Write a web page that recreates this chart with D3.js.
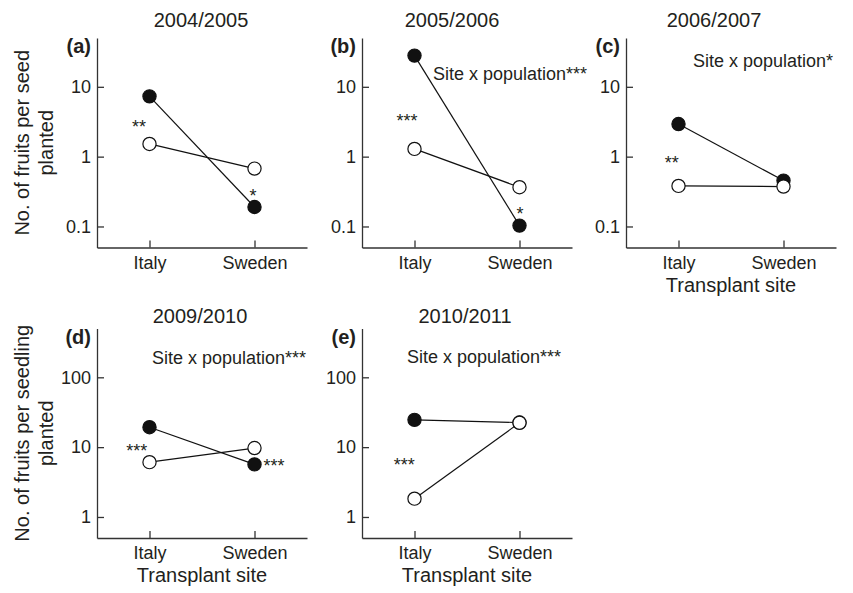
<!DOCTYPE html>
<html>
<head>
<meta charset="utf-8">
<script src="https://cdn.jsdelivr.net/npm/d3@7"></script>
<style>
  html, body { margin: 0; padding: 0; background: #fff; }
  svg { display: block; }
  text { font-family: "Liberation Sans", Arial, Helvetica, sans-serif; fill: #231f20; }
</style>
</head>
<body>
<svg id="chart" width="853" height="593"></svg>
<script>
// ---------------- DATA ----------------
const sites = ["Italy", "Sweden"];
const panelLabels = ["(a)", "(b)", "(c)", "(d)", "(e)"];
const seasons = ["2004/2005", "2005/2006", "2006/2007", "2009/2010", "2010/2011"];
// filled circles (first population) and open circles (second population), per panel [Italy, Sweden]
const filledValues = [
  [7.3, 0.19],
  [28, 0.103],
  [2.93, 0.454],
  [19.3, 5.66],
  [24.6, 22.5]
];
const openValues = [
  [1.52, 0.674],
  [1.29, 0.365],
  [0.381, 0.373],
  [6.1, 9.7],
  [1.83, 22.3]
];
const interactionText = ["", "Site x population***", "Site x population*", "Site x population***", "Site x population***"];
const significanceStars = [
  ["**", "*"],
  ["***", "*"],
  ["**"],
  ["***", "***"],
  ["***"]
];
const yTicksSeed = [0.1, 1, 10];
const yTicksSeedling = [1, 10, 100];
const yDomainSeed = [0.05, 50];
const yDomainSeedling = [0.5, 500];
const yTitleSeed = ["No. of fruits per seed", "planted"];
const yTitleSeedling = ["No. of fruits per seedling", "planted"];
const xTitle = "Transplant site";

// ---------------- LAYOUT ----------------
const rows = [
  { y0: 38, y1: 247.5, titleY: 26.5, ticks: yTicksSeed, domain: yDomainSeed, yTitle: yTitleSeed },
  { y0: 328.5, y1: 538, titleY: 323, ticks: yTicksSeedling, domain: yDomainSeedling, yTitle: yTitleSeedling }
];
const panels = [
  { x0: 97,  row: 0, titleDx: 104, inter: null,      yTitle: true,  xTitle: false, openOnTop: true,
    stars: [{ dx: 42, y: 123 - 38 }, { dx: 156, y: 192 - 38 }] },
  { x0: 362, row: 0, titleDx: 90,  inter: [71, 42],  yTitle: false, xTitle: false, openOnTop: true,
    stars: [{ dx: 45, y: 116.7 - 38 }, { dx: 158, y: 210 - 38 }] },
  { x0: 626, row: 0, titleDx: 88,  inter: [67, 29],  yTitle: false, xTitle: true, openOnTop: true,
    stars: [{ dx: 45.7, y: 159.3 - 38 }] },
  { x0: 97,  row: 1, titleDx: 103, inter: [55, 35.5], yTitle: true, xTitle: true, openOnTop: false,
    stars: [{ dx: 39.7, y: 446.7 - 328.5 }, { dx: 177, y: 461.7 - 328.5 }] },
  { x0: 362, row: 1, titleDx: 103, inter: [45, 34.5], yTitle: false, xTitle: true, openOnTop: true,
    stars: [{ dx: 42.3, y: 461 - 328.5 }] }
];
const panelWidth = 210;
const axisColor = "#333";
const radius = 6.6;

const svg = d3.select("#chart");
svg.append("rect").attr("width", 853).attr("height", 593).attr("fill", "#fff");

panels.forEach((p, i) => {
  const r = rows[p.row];
  const g = svg.append("g");
  const x = d3.scalePoint().domain(sites).range([p.x0, p.x0 + panelWidth]).padding(0.5);
  const y = d3.scaleLog().domain(r.domain).range([r.y1, r.y0]);

  // axes
  const yAxis = d3.axisLeft(y).tickValues(r.ticks).tickFormat(d3.format("~g"))
    .tickSizeInner(-7).tickSizeOuter(0).tickPadding(6);
  const ya = g.append("g").attr("transform", `translate(${p.x0},0)`).call(yAxis);
  const xAxis = d3.axisBottom(x).tickSizeInner(-7).tickSizeOuter(0).tickPadding(8.5);
  const xa = g.append("g").attr("transform", `translate(0,${r.y1})`).call(xAxis);
  [ya, xa].forEach(a => {
    a.select(".domain").attr("stroke", axisColor).attr("stroke-width", 1.3);
    a.selectAll(".tick line").attr("stroke", axisColor).attr("stroke-width", 1.3);
    a.selectAll(".tick text").attr("font-size", 18).attr("fill", "#231f20")
      .attr("font-family", "'Liberation Sans', Arial, sans-serif");
  });

  // title
  g.append("text").attr("x", p.x0 + p.titleDx).attr("y", r.titleY)
    .attr("text-anchor", "middle").attr("font-size", 20).text(seasons[i]);
  // panel label
  g.append("text").attr("x", p.x0 - 6).attr("y", r.y0 + 15)
    .attr("text-anchor", "end").attr("font-size", 20).attr("font-weight", "bold").text(panelLabels[i]);

  // interaction annotation
  if (p.inter && interactionText[i]) {
    g.append("text").attr("x", p.x0 + p.inter[0]).attr("y", r.y0 + p.inter[1])
      .attr("font-size", 18).text(interactionText[i]);
  }

  // lines + circles
  const filled = { vals: filledValues[i], fill: "#111" };
  const open = { vals: openValues[i], fill: "#fff" };
  const series = p.openOnTop ? [filled, open] : [open, filled];
  const line = d3.line().x((d, k) => x(sites[k])).y(d => y(d));
  series.forEach(s => {
    g.append("path").attr("d", line(s.vals)).attr("fill", "none")
      .attr("stroke", "#111").attr("stroke-width", 1.2);
  });
  series.forEach(s => {
    g.selectAll(null).data(s.vals).enter().append("circle")
      .attr("cx", (d, k) => x(sites[k])).attr("cy", d => y(d)).attr("r", radius)
      .attr("fill", s.fill).attr("stroke", "#111").attr("stroke-width", 1.2);
  });

  // significance stars
  significanceStars[i].forEach((t, k) => {
    const pos = p.stars[k];
    g.append("text").attr("x", p.x0 + pos.dx).attr("y", r.y0 + pos.y + 10)
      .attr("text-anchor", "middle").attr("font-size", 18).attr("fill", "#444").text(t);
  });

  // y title
  if (p.yTitle) {
    const cy = (r.y0 + r.y1) / 2;
    [29, 53].forEach((bx, k) => {
      g.append("text").attr("transform", `translate(${bx},${cy}) rotate(-90)`)
        .attr("text-anchor", "middle").attr("font-size", 20).text(r.yTitle[k]);
    });
  }
  // x title
  if (p.xTitle) {
    g.append("text").attr("x", p.x0 + panelWidth / 2).attr("y", r.y1 + 44)
      .attr("text-anchor", "middle").attr("font-size", 20).text(xTitle);
  }
});
</script>
</body>
</html>
